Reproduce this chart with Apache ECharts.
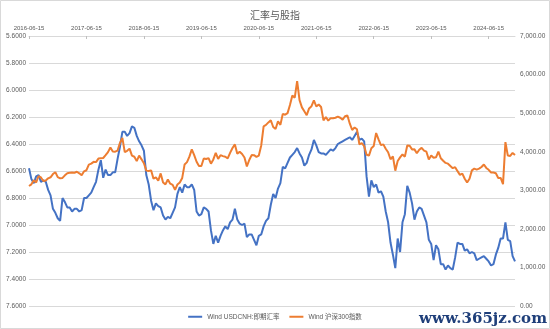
<!DOCTYPE html>
<html>
<head>
<meta charset="utf-8">
<script src="https://cdn.jsdelivr.net/npm/echarts@6/dist/echarts.min.js"></script>
<style>
html,body{margin:0;padding:0;background:#fff;}
#chart{width:550px;height:329px;}
</style>
</head>
<body>
<div id="chart"></div>
<script>
// semi-monthly sample dates (15th and month end), 2016-06-15 .. 2024-11-30
const dates = [];
for (let y = 2016; y <= 2024; y++) {
  for (let m = 1; m <= 12; m++) {
    const mm = String(m).padStart(2, '0');
    const last = new Date(y, m, 0).getDate();
    [15, last].forEach(d => {
      const s = y + '-' + mm + '-' + String(d).padStart(2, '0');
      if (s >= '2016-06-15' && s <= '2024-11-30') dates.push(s);
    });
  }
}

const usdcnh = [
  6.58,6.66,6.69,6.64,6.63,6.68,6.67,6.68,6.74,6.78,6.88,6.91,6.95,6.97,
  6.80,6.83,6.87,6.87,6.90,6.88,6.88,6.90,6.89,6.80,6.80,6.78,6.76,6.72,6.68,6.59,6.52,6.65,6.59,6.63,6.63,6.61,6.61,6.51,
  6.42,6.31,6.31,6.34,6.32,6.27,6.28,6.34,6.38,6.41,6.45,6.63,6.70,6.82,6.89,6.84,6.86,6.87,6.93,6.96,6.94,6.95,6.91,6.87,
  6.77,6.72,6.76,6.70,6.72,6.72,6.70,6.74,6.90,6.93,6.92,6.87,6.88,6.90,7.04,7.14,7.08,7.13,7.08,7.04,7.01,7.03,6.98,6.96,
  6.88,6.96,6.99,7.00,6.99,7.09,7.07,7.07,7.11,7.15,7.08,7.07,7.01,6.97,6.95,6.85,6.77,6.80,6.73,6.69,6.57,6.58,6.54,6.50,
  6.48,6.46,6.43,6.47,6.50,6.56,6.54,6.48,6.44,6.37,6.41,6.46,6.47,6.47,6.48,6.46,6.44,6.45,6.43,6.40,6.39,6.38,6.37,6.36,
  6.35,6.37,6.34,6.31,6.37,6.36,6.38,6.64,6.79,6.67,6.72,6.70,6.76,6.75,6.79,6.90,6.98,7.13,7.22,7.32,7.10,7.20,6.98,6.92,
  6.71,6.76,6.84,6.96,6.90,6.87,6.88,6.93,6.98,7.11,7.14,7.26,7.15,7.18,7.29,7.29,7.33,7.30,7.32,7.33,7.24,7.13,7.14,7.14,
  7.19,7.18,7.21,7.20,7.21,7.26,7.25,7.24,7.23,7.25,7.27,7.30,7.29,7.22,7.17,7.10,7.10,6.98,7.11,7.12,7.23,7.27
];

const csi300 = [
  3110,3154,3260,3203,3370,3333,3240,3253,3310,3337,3420,3470,3340,3310,
  3320,3387,3440,3452,3460,3456,3480,3440,3390,3492,3520,3666,3690,3737,3730,3822,3830,3837,3910,3990,4110,4006,4000,4030,
  4230,4360,3990,4023,4080,3898,3870,3756,3900,3802,3700,3510,3500,3517,3300,3335,3250,3438,3200,3153,3280,3172,3140,3011,
  3150,3202,3320,3670,3730,3872,4060,3913,3740,3630,3630,3825,3810,3835,3690,3800,3970,3814,3910,3886,3870,3828,3970,4096,
  4190,3946,4000,3940,3850,3620,3785,3912,3910,3868,3900,4163,4660,4695,4760,4816,4640,4587,4790,4695,4980,4960,5000,5211,
  5458,5400,5830,5336,5150,5048,4947,5123,5180,5331,5172,5224,5160,4811,4900,4806,4870,4866,4880,4908,4880,4832,4920,4940,
  4726,4563,4630,4581,4190,4222,4145,3921,3900,4091,4150,4485,4322,4170,4190,4078,3985,3804,3880,3508,3760,3853,3930,3872,
  4160,4156,4060,4061,3960,4050,4100,4029,4000,3799,3900,3842,3855,4002,3830,3765,3710,3690,3630,3573,3600,3496,3400,3431,
  3300,3200,3300,3516,3560,3537,3560,3604,3670,3580,3530,3462,3460,3442,3320,3321,3160,4250,3900,3891,3968,3916
];

const titleText = '汇率与股指';
const seriesNames = ['Wind USDCNH:即期汇率', 'Wind 沪深300指数'];
const watermark = 'www.365jz.com';

const FONT = '"Liberation Sans", "Noto Sans CJK SC", sans-serif';
const isLabelDate = (idx, v) => /-06-15$/.test(v);

const chart = echarts.init(document.getElementById('chart'), null, {renderer: 'canvas'});
chart.setOption({
  animation: false,
  backgroundColor: '#fff',
  title: {
    text: titleText,
    left: 'center',
    top: 5,
    textStyle: {fontFamily: '"Noto Sans CJK SC", sans-serif', fontSize: 10, fontWeight: 'normal', color: '#595959'}
  },
  legend: {
    bottom: 4,
    left: 'center',
    icon: 'rect',
    itemWidth: 14,
    itemHeight: 2,
    itemGap: 10,
    textStyle: {fontFamily: FONT, fontSize: 6.5, color: '#595959'},
    data: seriesNames
  },
  grid: {left: 29, right: 35, top: 36, bottom: 23, containLabel: false},
  xAxis: {
    type: 'category',
    position: 'top',
    data: dates,
    boundaryGap: false,
    axisLine: {show: true, onZero: false, lineStyle: {color: '#d9d9d9'}},
    axisTick: {show: true, inside: true, interval: isLabelDate, length: 3, lineStyle: {color: '#bfbfbf'}},
    axisLabel: {interval: isLabelDate, fontFamily: FONT, fontSize: 6, color: '#595959', margin: 5},
    splitLine: {show: false}
  },
  yAxis: [
    {
      type: 'value',
      inverse: true,
      min: 5.6,
      max: 7.6,
      interval: 0.2,
      axisLine: {show: false},
      axisTick: {show: false},
      axisLabel: {fontFamily: FONT, fontSize: 6.5, color: '#595959', margin: 3, formatter: v => v.toFixed(4)},
      splitLine: {show: true, lineStyle: {color: '#d9d9d9', width: 1}}
    },
    {
      type: 'value',
      min: 0,
      max: 7000,
      interval: 1000,
      axisLine: {show: false},
      axisTick: {show: false},
      axisLabel: {
        fontFamily: FONT, fontSize: 6.5, color: '#595959', margin: 5,
        formatter: v => v.toLocaleString('en-US', {minimumFractionDigits: 2, maximumFractionDigits: 2})
      },
      splitLine: {show: false}
    }
  ],
  series: [
    {
      name: seriesNames[0],
      type: 'line',
      yAxisIndex: 0,
      data: usdcnh,
      showSymbol: false,
      symbol: 'none',
      lineStyle: {color: '#4472C4', width: 2},
      itemStyle: {color: '#4472C4'}
    },
    {
      name: seriesNames[1],
      type: 'line',
      yAxisIndex: 1,
      data: csi300,
      showSymbol: false,
      symbol: 'none',
      lineStyle: {color: '#ED7D31', width: 2},
      itemStyle: {color: '#ED7D31'}
    }
  ],
  graphic: [
    {type: 'rect', shape: {x: 0.5, y: 0.5, width: 549, height: 328}, style: {fill: 'none', stroke: '#d9d9d9', lineWidth: 1}, silent: true},
    {type: 'text', right: 3, bottom: 2, style: {text: watermark, font: 'bold 15px "DejaVu Serif", serif', fill: '#1f3f7a'}, silent: true}
  ]
});
</script>
</body>
</html>
